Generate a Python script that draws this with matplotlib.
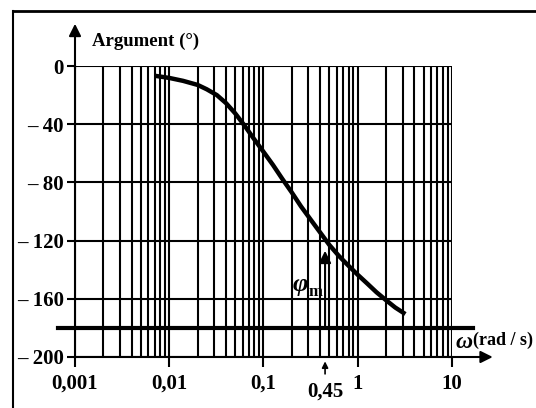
import numpy as np
import matplotlib
matplotlib.use("Agg")
import matplotlib.pyplot as plt
from matplotlib.lines import Line2D

plt.rcParams['font.family'] = ['Liberation Serif', 'DejaVu Serif']

# données
omega = [0.007, 0.01, 0.014, 0.02, 0.025, 0.032, 0.04, 0.05, 0.063, 0.079, 0.1, 0.126,
         0.158, 0.2, 0.25, 0.316, 0.4, 0.5, 0.63, 0.79, 1.0, 1.26, 1.58, 2.0, 2.5, 3.2]
phase = [-6.7, -8.2, -10.2, -13, -16, -20, -25.5, -32.5, -41, -50, -59, -68,
         -77.5, -87, -96.5, -105.5, -114.5, -123, -130.5, -137, -143.5, -149.5,
         -155.5, -161, -166, -170.5]

y_ticks = [0, -40, -80, -120, -160, -200]
y_labels = ['0', '– 40', '– 80', '– 120', '– 160', '– 200']
x_ticks = [0.001, 0.01, 0.1, 1, 10]
x_labels = ['0,001', '0,01', '0,1', '1', '10']
w_m = 0.45
phi_m_top = -127
phase_lim = -180

fig = plt.figure(figsize=(5.36, 4.08), dpi=100)
ax = fig.add_axes([75 / 536, 1 - 357 / 408, 377 / 536, 291 / 408])

ax.set_xscale('log')
ax.set_xlim(0.001, 10)
ax.set_ylim(-200, 0)

# grille
ax.set_xticks(x_ticks)
ax.set_xticklabels(x_labels)
ax.set_yticks(y_ticks)
ax.set_yticklabels(y_labels)
ax.xaxis.set_minor_locator(matplotlib.ticker.LogLocator(base=10, subs=np.arange(2, 10)))
ax.xaxis.set_minor_formatter(matplotlib.ticker.NullFormatter())
ax.tick_params(axis='x', which='minor', length=0)
ax.tick_params(axis='x', which='major', length=7, width=1.5, direction='out', pad=5, labelsize=15)
ax.tick_params(axis='y', which='major', length=6, width=1.5, direction='out', pad=2, labelsize=15)
for lbl in ax.get_xticklabels() + ax.get_yticklabels():
    lbl.set_fontweight('bold')
ax.grid(True, which='both', axis='x', color='black', linewidth=1.5)
ax.grid(True, which='major', axis='y', color='black', linewidth=1.5)
ax.set_axisbelow(True)

for side in ['top', 'right']:
    ax.spines[side].set_visible(False)
ax.spines['left'].set_linewidth(1.5)
ax.spines['bottom'].set_linewidth(1.5)

# courbe de phase
ax.plot(omega, phase, color='black', linewidth=3.2, solid_capstyle='butt', zorder=4)

# droite -180°
ax.plot([-0.045, 1.056], [phase_lim, phase_lim], color='black', linewidth=3,
        transform=ax.get_yaxis_transform(), clip_on=False, zorder=4)

# flèches des axes
ax.annotate('', xy=(0, 1.145), xytext=(0, 0.99), xycoords='axes fraction',
            arrowprops=dict(arrowstyle='-|>', color='black', lw=1.5,
                            mutation_scale=18, shrinkA=0, shrinkB=0))
ax.annotate('', xy=(1.108, 0), xytext=(0.99, 0), xycoords='axes fraction',
            arrowprops=dict(arrowstyle='-|>', color='black', lw=1.5,
                            mutation_scale=18, shrinkA=0, shrinkB=0))

# marge de phase
ax.annotate('', xy=(w_m, phi_m_top), xytext=(w_m, phase_lim),
            arrowprops=dict(arrowstyle='-|>', color='black', lw=1.5,
                            mutation_scale=18, shrinkA=0, shrinkB=0), zorder=5)
ax.text(0.245, -150, 'φ', fontsize=19, fontstyle='italic', fontweight='bold',
        ha='center', va='center', zorder=6)
ax.text(0.30, -155, 'm', fontsize=12, fontweight='bold', ha='left', va='center', zorder=6)

ax.annotate('', xy=(w_m, -0.015), xytext=(w_m, -0.058), xycoords=ax.get_xaxis_transform(),
            arrowprops=dict(arrowstyle='-|>', color='black', lw=1.2,
                            mutation_scale=9, shrinkA=0, shrinkB=0))
ax.text(w_m, -0.12, '0,45', transform=ax.get_xaxis_transform(), fontsize=15,
        fontweight='bold', ha='center', va='center')

# titres des axes
fig.text(92 / 536, 1 - 41 / 408, 'Argument (°)', fontsize=13.5, fontweight='bold',
         ha='left', va='center')
fig.text(456 / 536, 1 - 342 / 408, 'ω', fontsize=17, fontstyle='italic', fontweight='bold',
         ha='left', va='center')
fig.text(473 / 536, 1 - 340 / 408, '(rad / s)', fontsize=13, fontweight='bold',
         ha='left', va='center')

# cadre
fig.add_artist(Line2D([13 / 536, 13 / 536], [0, 1 - 11 / 408], color='black', linewidth=1.5))
fig.add_artist(Line2D([13 / 536, 1], [1 - 11 / 408, 1 - 11 / 408], color='black', linewidth=2))

fig.savefig('out.png', dpi=100)
